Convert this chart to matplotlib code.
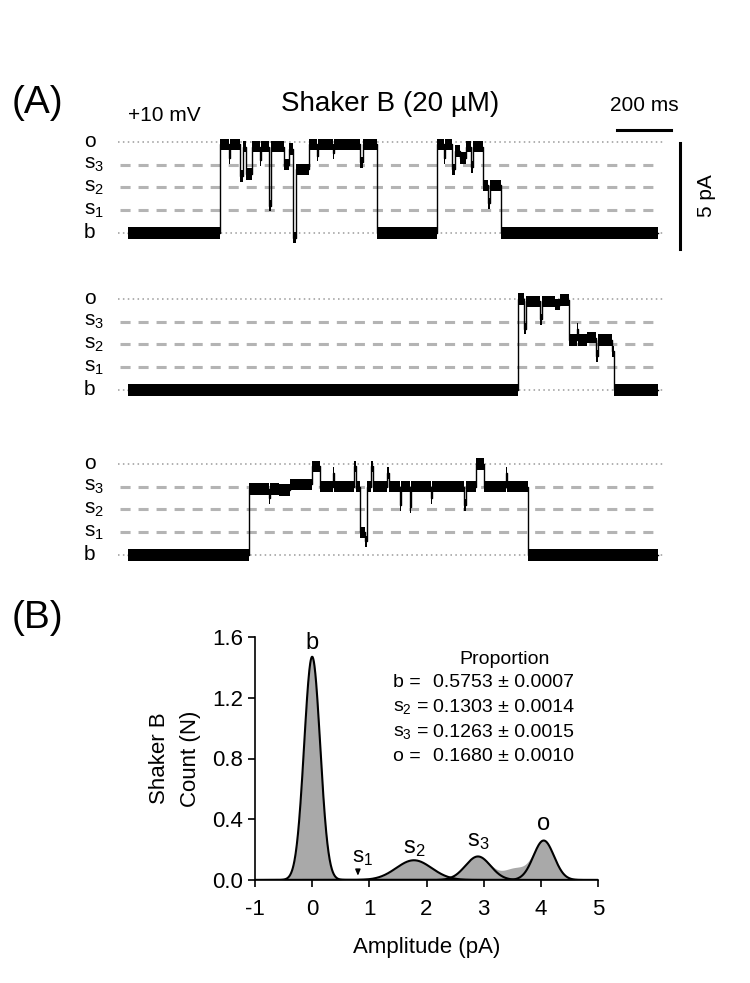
import numpy as np
import matplotlib.pyplot as plt

plt.rcParams['font.family'] = ['Liberation Sans', 'DejaVu Sans']
plt.rcParams['mathtext.fontset'] = 'custom'
plt.rcParams['mathtext.rm'] = 'Liberation Sans'
plt.rcParams['mathtext.it'] = 'Liberation Sans:italic'
plt.rcParams['axes.unicode_minus'] = False

# ---------------- panel A: idealised records (time ms, level 0=b .. 4=o)
level_names = ['b', r'$\mathrm{s}_1$', r'$\mathrm{s}_2$', r'$\mathrm{s}_3$', 'o']

trace1_t = [0, 340, 372, 376, 416, 424, 438, 458, 488, 492, 520, 528, 578, 594,
            610, 620, 668, 700, 704, 760, 764, 860, 870, 923, 1144, 1170, 1174,
            1200, 1210, 1230, 1250, 1268, 1276, 1313, 1333, 1340, 1379]
trace1_lvl = [0.0, 3.9, 3.3, 3.9, 2.5, 3.8, 2.6, 3.8, 3.2, 3.8, 1.2, 3.8, 3.0, 3.7,
              -0.2, 2.8, 3.9, 3.4, 3.9, 3.5, 3.9, 3.1, 3.9, 0.0, 3.9, 3.3, 3.9,
              2.8, 3.6, 3.3, 3.8, 2.9, 3.8, 2.1, 1.3, 2.1, 0.0]

trace2_t = [0, 1444, 1466, 1474, 1526, 1532, 1580, 1600, 1631, 1660, 1664,
            1700, 1730, 1738, 1790, 1799]
trace2_lvl = [0.0, 4.0, 2.7, 3.9, 3.1, 3.9, 3.75, 3.95, 2.2, 2.7, 2.2,
              2.3, 1.5, 2.2, 1.7, 0.0]

trace3_t = [0, 446, 520, 524, 560, 600, 682, 712, 760, 764, 835, 842, 860, 878,
            884, 900, 908, 960, 964, 1005, 1010, 1042, 1048, 1120, 1124, 1244,
            1250, 1288, 1318, 1400, 1404, 1480]
trace3_lvl = [0.0, 2.9, 2.5, 2.9, 2.85, 3.1, 3.9, 3.0, 3.6, 3.0, 3.9, 3.0, 1.0, 0.6,
              3.0, 3.9, 3.0, 3.6, 3.0, 2.2, 3.0, 2.1, 3.0, 2.5, 3.0, 2.2,
              3.0, 4.0, 3.0, 3.6, 3.0, 0.0]

T_END = 1960

# ---------------- panel B: gaussian fit components
comp_mean = [0.0, 1.78, 2.90, 4.05]
comp_sd = [0.14, 0.31, 0.22, 0.18]
comp_peak = [1.47, 0.13, 0.155, 0.26]
# extra counts in the histogram between s3 and o not covered by the fits
extra_mean, extra_sd, extra_peak = 3.55, 0.2, 0.075

peak_labels = ['b', r'$\mathrm{s}_2$', r'$\mathrm{s}_3$', 'o']
peak_label_y = [1.56, 0.21, 0.26, 0.37]
prop_names = ['b =', r'$\mathrm{s}_2$ =', r'$\mathrm{s}_3$ =', 'o =']
prop_vals = ['0.5753 \u00b1 0.0007', '0.1303 \u00b1 0.0014',
             '0.1263 \u00b1 0.0015', '0.1680 \u00b1 0.0010']

# ---------------- layout (pixel based)
W, H = 750, 983
MS_PER_PX = 3.7
PA_PER_PX = 1 / 21.2
X0, Y0 = 128, 233
LEVEL_PA = 22.75 * PA_PER_PX
BAND = 0.27

fig = plt.figure(figsize=(W / 100, H / 100), dpi=100)

ax = fig.add_axes([0, 0, 1, 1])
ax.set_xlim(-X0 * MS_PER_PX, (W - X0) * MS_PER_PX)
ax.set_ylim((Y0 - H) * PA_PER_PX, Y0 * PA_PER_PX)
ax.axis('off')


def px(x):
    return (x - X0) * MS_PER_PX


def py(y):
    return (Y0 - y) * PA_PER_PX


def draw_trace(t, lvl, offset):
    for i, name in enumerate(level_names):
        y = offset + i * LEVEL_PA
        if i in (0, 4):
            ax.plot([px(118), px(664)], [y, y], color='#9a9a9a', lw=1.1,
                    dashes=(1, 2.2), zorder=1)
        else:
            ax.plot([px(120), px(660)], [y, y], color='#b4b4b4', lw=2.2,
                    dashes=(3.3, 2.6), zorder=1)
        ax.text(px(84), y, name, fontsize=15, ha='left', va='center')
    tt = np.append(t, T_END)
    yy = np.append(lvl, lvl[-1]) * LEVEL_PA + offset
    ax.fill_between(tt, yy - BAND, yy + BAND, step='post', color='k', lw=0,
                    zorder=3)
    ax.step(tt, yy, where='post', color='k', lw=1, zorder=3)


draw_trace(trace1_t, trace1_lvl, py(233))
draw_trace(trace2_t, trace2_lvl, py(390))
draw_trace(trace3_t, trace3_lvl, py(555))

ax.text(px(128), py(116), '+10 mV', fontsize=15, ha='left', va='center')
ax.plot([px(617), px(617) + 200], [py(130)] * 2, color='k', lw=2.2)
ax.text(px(617) + 100, py(106), '200 ms', fontsize=15, ha='center', va='center')
ax.plot([px(680)] * 2, [py(249), py(249) + 5], color='k', lw=2.2)
ax.text(px(706), py(196), '5 pA', fontsize=15, ha='center', va='center',
        rotation=90)

fig.text(37 / W, 1 - 103 / H, '(A)', fontsize=28, ha='center', va='center')
fig.text(390 / W, 1 - 104 / H, 'Shaker B (20 \u00b5M)', fontsize=20,
         ha='center', va='center')
fig.text(37 / W, 1 - 618 / H, '(B)', fontsize=28, ha='center', va='center')

# ---------------- panel B
axb = fig.add_axes([255 / W, 1 - 880 / H, 343 / W, 243 / H])
x = np.linspace(-1, 5, 1200)
fits = [p * np.exp(-0.5 * ((x - m) / s) ** 2)
        for m, s, p in zip(comp_mean, comp_sd, comp_peak)]
hist = np.sum(fits, axis=0) + extra_peak * np.exp(-0.5 * ((x - extra_mean) / extra_sd) ** 2)
axb.fill_between(x, 0, hist, color='#a9a9a9', lw=0)
for f in fits:
    axb.plot(x, f, color='k', lw=1.5)

for m, lab, ly in zip(comp_mean, peak_labels, peak_label_y):
    axb.text(m, ly, lab, fontsize=17, ha='center', va='center')
axb.text(0.88, 0.15, r'$\mathrm{s}_1$', fontsize=16, ha='center', va='center')
axb.annotate('', xy=(0.8, 0.01), xytext=(0.8, 0.075),
             arrowprops=dict(arrowstyle='-|>,head_length=0.35,head_width=0.15',
                             color='k', lw=1))

axb.text(3.37, 1.45, 'Proportion', fontsize=14, ha='center', va='center')
for i, (n, v) in enumerate(zip(prop_names, prop_vals)):
    yy = 1.30 - i * 0.163
    axb.text(1.41, yy, n, fontsize=14, ha='left', va='center')
    axb.text(2.11, yy, v, fontsize=14, ha='left', va='center')

axb.set_xlim(-1, 5)
axb.set_ylim(0, 1.6)
axb.set_xticks(range(-1, 6))
axb.set_yticks([0, 0.4, 0.8, 1.2, 1.6])
axb.set_yticklabels(['0.0', '0.4', '0.8', '1.2', '1.6'])
axb.tick_params(labelsize=16, direction='out', length=5, width=1.2)
axb.tick_params(axis='x', pad=9)
for s in ('top', 'right'):
    axb.spines[s].set_visible(False)
for s in ('left', 'bottom'):
    axb.spines[s].set_linewidth(1.2)
axb.set_xlabel('Amplitude (pA)', fontsize=16, labelpad=12)
axb.set_ylabel('Shaker B\nCount (N)', fontsize=16, labelpad=8, linespacing=1.6)
axb.patch.set_alpha(0)

fig.savefig('out.png', dpi=100)
